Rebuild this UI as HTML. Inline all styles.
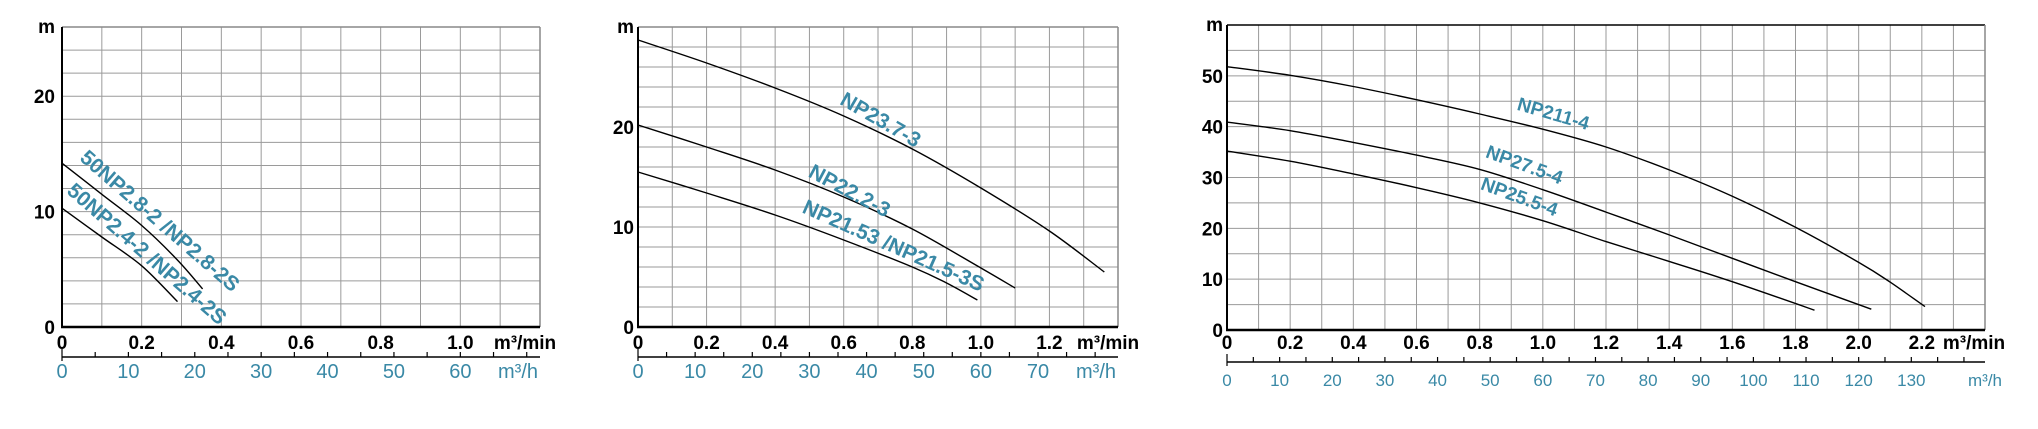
<!DOCTYPE html>
<html><head><meta charset="utf-8"><style>
html,body{margin:0;padding:0;background:#fff;}
svg{display:block;}
text{font-family:"Liberation Sans",Arial,sans-serif;}
.tk{font-weight:bold;fill:#000;}
.th{fill:#3a89a6;}
.lb{fill:#3a89a6;font-weight:bold;}
</style></head><body>
<svg id="chart" width="2038" height="429" viewBox="0 0 2038 429" xmlns="http://www.w3.org/2000/svg"></svg>
<script>
// ---- Chart 1 data ----
const c1Flow_A = [0, 0.1, 0.2, 0.29, 0.353];
const c1Head_A = [14.2, 11.5, 8.8, 5.8, 3.3];
const c1Flow_B = [0, 0.1, 0.2, 0.29];
const c1Head_B = [10.3, 7.8, 5.3, 2.2];
const c1Names = ["50NP2.8-2 /NP2.8-2S", "50NP2.4-2 /NP2.4-2S"];
const c1XTicks = [0, 0.2, 0.4, 0.6, 0.8, 1.0];
const c1YTicks = [0, 10, 20];
const c1HTicks = [0, 10, 20, 30, 40, 50, 60];
// ---- Chart 2 data ----
const c2Flow_A = [0, 0.2, 0.4, 0.6, 0.8, 1.0, 1.2, 1.36];
const c2Head_A = [28.7, 26.4, 23.9, 21.1, 17.8, 13.9, 9.6, 5.5];
const c2Flow_B = [0, 0.2, 0.4, 0.6, 0.8, 1.0, 1.1];
const c2Head_B = [20.2, 18.0, 15.7, 13.0, 9.8, 5.9, 3.9];
const c2Flow_C = [0, 0.2, 0.4, 0.6, 0.8, 0.9, 0.99];
const c2Head_C = [15.5, 13.4, 11.2, 8.7, 6.0, 4.4, 2.7];
const c2Names = ["NP23.7-3", "NP22.2-3", "NP21.53 /NP21.5-3S"];
const c2XTicks = [0, 0.2, 0.4, 0.6, 0.8, 1.0, 1.2];
const c2YTicks = [0, 10, 20];
const c2HTicks = [0, 10, 20, 30, 40, 50, 60, 70];
// ---- Chart 3 data ----
const c3Flow_A = [0, 0.2, 0.4, 0.6, 0.8, 1.0, 1.2, 1.4, 1.6, 1.8, 2.0, 2.1, 2.21];
const c3Head_A = [51.8, 50.1, 47.9, 45.3, 42.5, 39.5, 36.0, 31.5, 26.3, 20.2, 13.3, 9.4, 4.6];
const c3Flow_B = [0, 0.2, 0.4, 0.6, 0.8, 1.0, 1.2, 1.4, 1.6, 1.8, 2.04];
const c3Head_B = [40.9, 39.2, 36.9, 34.4, 31.6, 27.6, 23.2, 18.7, 14.1, 9.5, 4.1];
const c3Flow_C = [0, 0.2, 0.4, 0.6, 0.8, 1.0, 1.2, 1.4, 1.6, 1.86];
const c3Head_C = [35.2, 33.2, 30.7, 28.0, 25.0, 21.5, 17.4, 13.5, 9.5, 3.9];
const c3Names = ["NP211-4", "NP27.5-4", "NP25.5-4"];
const c3XTicks = [0, 0.2, 0.4, 0.6, 0.8, 1.0, 1.2, 1.4, 1.6, 1.8, 2.0, 2.2];
const c3YTicks = [0, 10, 20, 30, 40, 50];
const c3HTicks = [0, 10, 20, 30, 40, 50, 60, 70, 80, 90, 100, 110, 120, 130];

const NS = "http://www.w3.org/2000/svg";
const svg = document.getElementById('chart');
function mk(tag, attrs, parent, txt) {
  const e = document.createElementNS(NS, tag);
  for (const k in attrs) e.setAttribute(k, attrs[k]);
  if (txt !== undefined) e.textContent = txt;
  (parent || svg).appendChild(e);
  return e;
}
function smoothPath(P) {
  let d = 'M' + P[0][0].toFixed(1) + ',' + P[0][1].toFixed(1);
  for (let i = 0; i < P.length - 1; i++) {
    const p0 = P[Math.max(0, i - 1)], p1 = P[i], p2 = P[i + 1], p3 = P[Math.min(P.length - 1, i + 2)];
    const c1x = p1[0] + (p2[0] - p0[0]) / 6, c1y = p1[1] + (p2[1] - p0[1]) / 6;
    const c2x = p2[0] - (p3[0] - p1[0]) / 6, c2y = p2[1] - (p3[1] - p1[1]) / 6;
    d += ' C' + c1x.toFixed(1) + ',' + c1y.toFixed(1) + ' ' + c2x.toFixed(1) + ',' + c2y.toFixed(1) + ' ' + p2[0].toFixed(1) + ',' + p2[1].toFixed(1);
  }
  return d;
}

function chart(cfg) {
  const g = mk('g', {});
  
  
  const sx = v => cfg.x0 + (v / cfg.xmax) * (cfg.x1 - cfg.x0);
  const sy = v => cfg.yb - (v / cfg.ymax) * (cfg.yb - cfg.yt);
  for (let v = 0; v <= cfg.xmax + 1e-9; v += 0.1) {
    const l = mk('line', {x1: sx(v), x2: sx(v), y1: cfg.yt, y2: cfg.yb, stroke: '#9a9a9a', 'stroke-width': 1}, g);
    
    
  }
  for (let v = 0; v <= cfg.ymax + 1e-9; v += cfg.ystep) {
    const l = mk('line', {x1: cfg.x0, x2: cfg.x1, y1: sy(v), y2: sy(v), stroke: '#9a9a9a', 'stroke-width': 1}, g);
    
    
  }
  const top = mk('line', {x1: cfg.x0, x2: cfg.x1, y1: cfg.yt, y2: cfg.yt, stroke: cfg.topColor, 'stroke-width': 1.5}, g);
  
  
  const rt = mk('line', {x1: cfg.x1, x2: cfg.x1, y1: cfg.yt, y2: cfg.yb, stroke: '#888', 'stroke-width': 1.5}, g);
  
  
  const ya = mk('line', {x1: cfg.x0, x2: cfg.x0, y1: cfg.yt, y2: cfg.yb, stroke: '#000', 'stroke-width': 2}, g);
  
  
  const xa = mk('line', {x1: cfg.x0 - 1, x2: cfg.x1, y1: cfg.yb, y2: cfg.yb, stroke: '#000', 'stroke-width': 2.5}, g);
  
  
  cfg.yTicks.forEach(v => {
    const t = mk('text', {x: cfg.ylx, y: sy(v) + 7, 'text-anchor': 'end', 'font-size': cfg.fs, class: 'tk'}, g, String(v));
    
    
  });
  const m = mk('text', {x: cfg.ylx, y: cfg.yt + 6, 'text-anchor': 'end', 'font-size': cfg.fs, class: 'tk'}, g, 'm');
  
  
  cfg.xTicks.forEach(v => {
    const s = v === 0 ? '0' : v.toFixed(1);
    const t = mk('text', {x: sx(v), y: cfg.xly, 'text-anchor': 'middle', 'font-size': cfg.fs, class: 'tk'}, g, s);
    
    
  });
  const xu = mk('text', {x: cfg.xux, y: cfg.xly, 'text-anchor': 'middle', 'font-size': cfg.fs, class: 'tk'}, g, 'm³/min');
  
  
  const sh = v => sx(v / 60);
  const sa = mk('line', {x1: cfg.x0, x2: cfg.x1, y1: cfg.ha, y2: cfg.ha, stroke: '#000', 'stroke-width': 1.5}, g);
  
  
  for (let v = 0; sh(v) <= cfg.x1 - 8; v += 5) {
    const tl = mk('line', {x1: sh(v), x2: sh(v), y1: cfg.ha - (v === 0 ? 8 : 5), y2: cfg.ha + (v === 0 ? 4 : 0), stroke: '#000', 'stroke-width': 1.2}, g);
    
    
  }
  cfg.hTicks.forEach(v => {
    const t = mk('text', {x: sh(v), y: cfg.hly, 'text-anchor': 'middle', 'font-size': cfg.hfs, class: 'th'}, g, String(v));
    
    
  });
  const hu = mk('text', {x: cfg.hux, y: cfg.hly, 'text-anchor': 'middle', 'font-size': cfg.hfs, class: 'th'}, g, 'm³/h');
  
  
  cfg.series.forEach((s, i) => {
    const P = s.f.map((f, j) => [sx(f), sy(s.h[j])]);
    const p = mk('path', {d: smoothPath(P), fill: 'none', stroke: '#000', 'stroke-width': 1.4}, g);
    
    
    const L = cfg.labels[i];
    const t = mk('text', {x: L[0], y: L[1], 'text-anchor': 'middle', 'dominant-baseline': 'middle', 'font-size': cfg.lfs, class: 'lb', transform: 'rotate(' + L[2] + ' ' + L[0] + ' ' + L[1] + ')'}, g, s.n);
    
    
  });
}

chart({name: 'chart-50np2', x0: 62, x1: 540, yt: 27, yb: 327, xmax: 1.2, ymax: 26, ystep: 2,
  topColor: '#888', fs: 19, hfs: 20, lfs: 21, ylx: 55, xly: 349, xux: 525, ha: 357, hly: 378, hux: 518,
  xTicks: c1XTicks, yTicks: c1YTicks, hTicks: c1HTicks,
  series: [{f: c1Flow_A, h: c1Head_A, n: c1Names[0]}, {f: c1Flow_B, h: c1Head_B, n: c1Names[1]}],
  labels: [[159, 222, 41], [146, 255, 41]]});

chart({name: 'chart-np2-3', x0: 638, x1: 1118, yt: 27, yb: 327, xmax: 1.4, ymax: 30, ystep: 2,
  topColor: '#888', fs: 19, hfs: 20, lfs: 21, ylx: 634, xly: 349, xux: 1108, ha: 357, hly: 378, hux: 1096,
  xTicks: c2XTicks, yTicks: c2YTicks, hTicks: c2HTicks,
  series: [{f: c2Flow_A, h: c2Head_A, n: c2Names[0]}, {f: c2Flow_B, h: c2Head_B, n: c2Names[1]}, {f: c2Flow_C, h: c2Head_C, n: c2Names[2]}],
  labels: [[880, 121, 30], [849, 192, 28], [893, 247, 24]]});

chart({name: 'chart-np2-4', x0: 1227, x1: 1985, yt: 25, yb: 330, xmax: 2.4, ymax: 60, ystep: 5,
  topColor: '#000', fs: 19, hfs: 17, lfs: 19, ylx: 1223, xly: 349, xux: 1974, ha: 362, hly: 386, hux: 1985,
  xTicks: c3XTicks, yTicks: c3YTicks, hTicks: c3HTicks,
  series: [{f: c3Flow_A, h: c3Head_A, n: c3Names[0]}, {f: c3Flow_B, h: c3Head_B, n: c3Names[1]}, {f: c3Flow_C, h: c3Head_C, n: c3Names[2]}],
  labels: [[1553, 115, 16], [1524, 166, 20], [1519, 198, 20]]});
</script>
</body></html>
